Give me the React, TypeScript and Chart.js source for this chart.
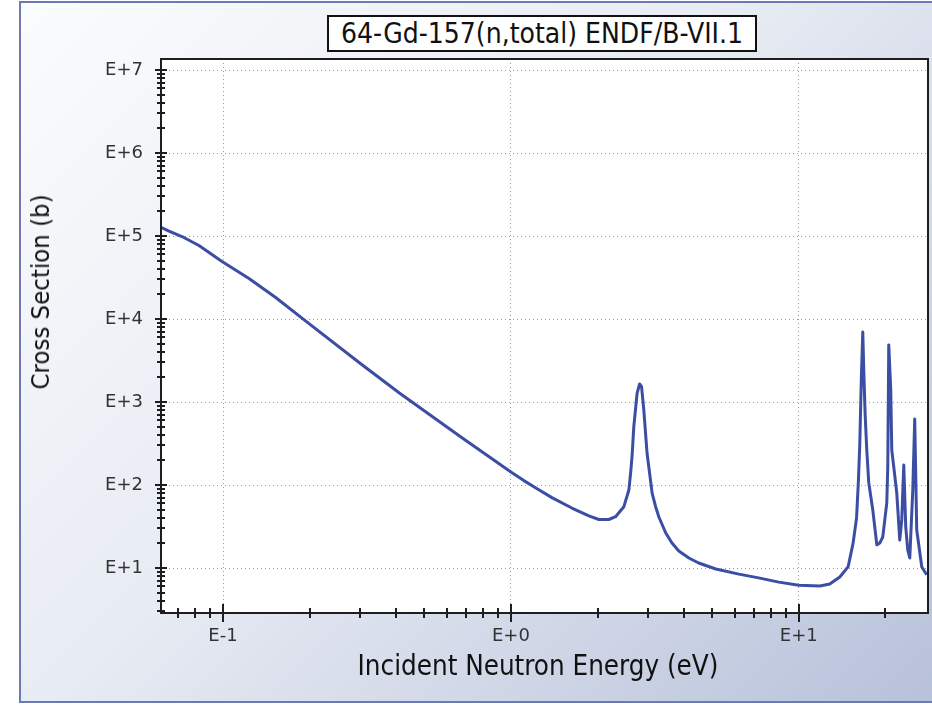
import React, { useEffect, useRef } from 'react';
import { Chart, registerables } from 'chart.js';

Chart.register(...registerables);

// Incident neutron energy (eV)
const energies = [
  0.0609, 0.0649, 0.072, 0.0825, 0.0992, 0.1231, 0.1524, 0.1885, 0.3, 0.4087,
  0.676, 1.0, 1.109, 1.221, 1.388, 1.628, 1.866, 2.021, 2.188, 2.309,
  2.468, 2.569, 2.61, 2.637, 2.672, 2.743, 2.799, 2.843, 2.895, 2.971,
  3.095, 3.181, 3.266, 3.45, 3.626, 3.83, 4.152, 4.49, 5.15, 6.19,
  7.25, 8.52, 10.0, 11.83, 12.81, 13.88, 14.84, 15.43, 15.87, 16.1,
  16.28, 16.48, 16.68, 16.81, 17.0, 17.22, 17.5, 18.07, 18.66, 19.11,
  19.57, 20.21, 20.37, 20.53, 20.86, 21.03, 21.37, 21.89, 22.42, 22.78,
  23.15, 23.52, 23.9, 24.29, 24.88, 25.27, 25.68, 26.74, 27.8,
];

// Total cross section (barns)
const crossSections = [
  127400, 114800, 98600, 76900, 49300, 30800, 18150, 10190, 2912, 1294,
  371, 143.5, 113, 92, 70.5, 52.8, 42.4, 38.4, 38.4, 41.5,
  54.8, 87, 150, 230, 504, 1273, 1648, 1528, 800, 241,
  79.4, 54.8, 41.2, 26.4, 20.0, 16.0, 13.2, 11.5, 9.72, 8.44,
  7.6, 6.76, 6.2, 6.07, 6.4, 7.8, 10.4, 19.8, 40, 110,
  300, 1800, 6970, 2430, 700, 264, 106, 50, 19, 20,
  23.6, 61, 165, 4870, 1400, 264, 165, 80, 21.7, 38,
  174, 31, 16.5, 13.2, 87, 624, 28.7, 10.3, 8.3,
];

const xMajorValues = [0.1, 1, 10];
const xTickLabels = ['E-1', 'E+0', 'E+1'];
const yMajorValues = [10, 100, 1000, 10000, 100000, 1000000, 10000000];
const yTickLabels = ['E+1', 'E+2', 'E+3', 'E+4', 'E+5', 'E+6', 'E+7'];
const minorSteps = [1, 2, 3, 4, 5, 6, 7, 8, 9];

const xMin = 0.0609;
const xMax = 28.1;
const yMin = 2.87;
const yMax = 13570000;

const titleText = '64-Gd-157(n,total) ENDF/B-VII.1';
const xTitle = 'Incident Neutron Energy (eV)';
const yTitle = 'Cross Section (b)';

const FONT = "'DejaVu Sans Condensed', 'DejaVu Sans', sans-serif";
const TICK_FONT = "'DejaVu Sans', sans-serif";

function tickValues(min: number, max: number): number[] {
  const out: number[] = [];
  const lo = Math.floor(Math.log10(min));
  const hi = Math.ceil(Math.log10(max));
  for (let e = lo; e <= hi; e++) {
    for (const m of minorSteps) {
      const v = parseFloat((m * Math.pow(10, e)).toPrecision(6));
      if (v >= min && v <= max) out.push(v);
    }
  }
  return out;
}

function majorIndex(v: number, majors: number[]): number {
  return majors.findIndex((m) => Math.abs(v / m - 1) < 1e-6);
}

const frameTicks = {
  id: 'frameTicks',
  beforeDraw(chart: any) {
    const { ctx, chartArea } = chart;
    const { left, top, right, bottom } = chartArea;
    ctx.save();
    ctx.fillStyle = '#ffffff';
    ctx.fillRect(left, top, right - left, bottom - top);
    ctx.restore();
  },
  afterDraw(chart: any) {
    const { ctx, chartArea } = chart;
    const { left, top, right, bottom } = chartArea;
    ctx.save();
    ctx.strokeStyle = '#1e1e1e';
    ctx.lineWidth = 2;
    ctx.strokeRect(left, top, right - left, bottom - top);
    const xs = chart.scales.x;
    const ys = chart.scales.y;
    ctx.beginPath();
    xs.ticks.forEach((t: any) => {
      const px = Math.round(xs.getPixelForValue(t.value));
      const major = majorIndex(t.value, xMajorValues) >= 0;
      const h = major ? 9 : 5;
      ctx.moveTo(px, bottom - h);
      ctx.lineTo(px, bottom + h);
    });
    ys.ticks.forEach((t: any) => {
      const py = Math.round(ys.getPixelForValue(t.value));
      const major = majorIndex(t.value, yMajorValues) >= 0;
      const w = major ? 6 : 4;
      ctx.moveTo(left - w, py);
      ctx.lineTo(left + w, py);
    });
    ctx.stroke();
    ctx.restore();
  },
};

export default function App() {
  const canvasRef = useRef<HTMLCanvasElement | null>(null);

  useEffect(() => {
    const canvas = canvasRef.current;
    if (!canvas) return;
    const data = energies.map((e, i) => ({ x: e, y: crossSections[i] }));
    const chart = new Chart(canvas, {
      type: 'line',
      data: {
        datasets: [
          {
            data,
            borderColor: '#3b4ea3',
            borderWidth: 3,
            borderJoinStyle: 'round',
            pointRadius: 0,
            fill: false,
            tension: 0,
          },
        ],
      },
      options: {
        animation: false,
        responsive: false,
        maintainAspectRatio: false,
        events: [],
        layout: { padding: { left: 0, top: 59, right: 4, bottom: 0 } },
        plugins: {
          legend: { display: false },
          tooltip: { enabled: false },
          title: { display: false },
        },
        scales: {
          x: {
            type: 'logarithmic',
            min: xMin,
            max: xMax,
            afterBuildTicks: (scale: any) => {
              scale.ticks = tickValues(xMin, xMax).map((v) => ({ value: v }));
            },
            afterFit: (scale: any) => {
              scale.height = 93;
            },
            grid: {
              drawTicks: false,
              lineWidth: 1,
              color: (c: any) =>
                c.tick && majorIndex(c.tick.value, xMajorValues) >= 0 ? '#9a9a9a' : 'rgba(0,0,0,0)',
            },
            border: { display: false, dash: [1, 3] },
            ticks: {
              autoSkip: false,
              maxRotation: 0,
              padding: 13,
              color: '#333333',
              font: { family: TICK_FONT, size: 18 },
              callback: (v: any) => {
                const i = majorIndex(Number(v), xMajorValues);
                return i >= 0 ? xTickLabels[i] : '';
              },
            },
            title: { display: false },
          },
          y: {
            type: 'logarithmic',
            min: yMin,
            max: yMax,
            afterBuildTicks: (scale: any) => {
              scale.ticks = tickValues(yMin, yMax).map((v) => ({ value: v }));
            },
            afterFit: (scale: any) => {
              scale.width = 161;
            },
            grid: {
              drawTicks: false,
              lineWidth: 1,
              color: (c: any) =>
                c.tick && majorIndex(c.tick.value, yMajorValues) >= 0 ? '#9a9a9a' : 'rgba(0,0,0,0)',
            },
            border: { display: false, dash: [1, 3] },
            ticks: {
              autoSkip: false,
              padding: 18,
              color: '#333333',
              font: { family: TICK_FONT, size: 18 },
              callback: (v: any) => {
                const i = majorIndex(Number(v), yMajorValues);
                return i >= 0 ? yTickLabels[i] : '';
              },
            },
          },
        },
      },
      plugins: [frameTicks],
    } as any);
    return () => chart.destroy();
  }, []);

  return (
    <div
      style={{
        position: 'absolute',
        left: 0,
        top: 0,
        width: 932,
        height: 706,
        overflow: 'hidden',
        background: '#ffffff',
      }}
    >
      <div
        style={{
          position: 'absolute',
          left: 19,
          top: 1,
          width: 940,
          height: 702,
          boxSizing: 'border-box',
          borderLeft: '2px solid #6b7ab4',
          borderTop: '2px solid #6b7ab4',
          borderBottom: '2px solid #6b7ab4',
          background: 'linear-gradient(135deg, #fbfcfd 0%, #e7ebf3 45%, #b6c0d9 100%)',
        }}
      />
      <canvas
        ref={canvasRef}
        width={932}
        height={706}
        style={{ position: 'absolute', left: 0, top: 0, width: 932, height: 706 }}
      />
      <div
        style={{
          position: 'absolute',
          left: 327,
          top: 15,
          width: 430,
          height: 37,
          boxSizing: 'border-box',
          border: '2px solid #111111',
          background: '#ffffff',
          display: 'flex',
          alignItems: 'center',
          justifyContent: 'center',
          fontFamily: FONT,
          fontSize: 28,
          color: '#111111',
          whiteSpace: 'nowrap',
        }}
      >
        {titleText}
      </div>
      <div
        style={{
          position: 'absolute',
          left: 40,
          top: 292,
          transform: 'translate(-50%, -50%) rotate(-90deg)',
          fontFamily: FONT,
          fontSize: 25.5,
          color: '#111111',
          whiteSpace: 'nowrap',
        }}
      >
        {yTitle}
      </div>
      <div
        style={{
          position: 'absolute',
          left: 538,
          top: 665,
          transform: 'translate(-50%, -50%)',
          fontFamily: FONT,
          fontSize: 27.5,
          color: '#111111',
          whiteSpace: 'nowrap',
        }}
      >
        {xTitle}
      </div>
    </div>
  );
}
